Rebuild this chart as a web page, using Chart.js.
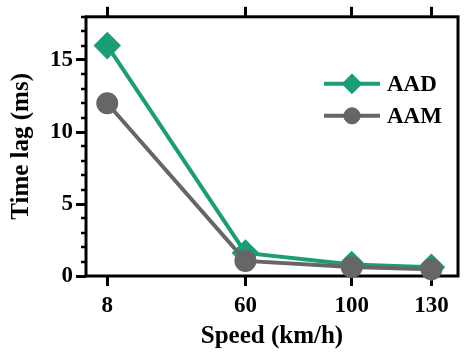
<!DOCTYPE html>
<html>
<head>
<meta charset="utf-8">
<script src="https://cdn.jsdelivr.net/npm/chart.js@4.4.0/dist/chart.umd.min.js"></script>
<style>
  html, body { margin: 0; padding: 0; background: #fff; }
  #wrap { position: relative; width: 473px; height: 358px; }
</style>
</head>
<body>
<div id="wrap"><canvas id="chart"></canvas></div>
<script>
// --- data ---
const speeds = [8, 60, 100, 130];
const aadLag = [16, 1.6, 0.8, 0.6];
const aamLag = [12, 1.05, 0.62, 0.47];
const seriesNames = ['AAD', 'AAM'];
const yMajorTicks = [0, 5, 10, 15];
const yMinorStep = 1;

const GREEN = '#1b9e77';
const GREY = '#666666';
const FONT = "'Liberation Serif', 'Times New Roman', serif";

function toPoints(ys) {
  return speeds.map((s, i) => ({ x: s, y: ys[i] }));
}

// frame + minor ticks on the left axis
const framePlugin = {
  id: 'frame',
  beforeDatasetsDraw(chart) {
    const { ctx, chartArea: a, scales } = chart;
    ctx.save();
    ctx.strokeStyle = '#000';
    ctx.lineWidth = 3;
    ctx.strokeRect(a.left, a.top, a.right - a.left, a.bottom - a.top);
    ctx.lineWidth = 2.5;
    const y = scales.y;
    for (let v = 0; v <= y.max; v += yMinorStep) {
      if (yMajorTicks.includes(v)) continue;
      const py = Math.round(y.getPixelForValue(v));
      ctx.beginPath();
      ctx.moveTo(a.left - 5, py);
      ctx.lineTo(a.left, py);
      ctx.stroke();
    }
    ctx.restore();
  }
};

// legend inside the plot: line segment + marker + label
const legendPlugin = {
  id: 'innerLegend',
  afterDraw(chart) {
    const { ctx, chartArea: a } = chart;
    const x0 = a.left + 238, x1 = a.left + 294, tx = a.left + 301;
    const rows = [a.top + 67, a.top + 99];
    ctx.save();
    chart.data.datasets.forEach((ds, i) => {
      const yy = rows[i];
      ctx.strokeStyle = ds.borderColor;
      ctx.lineWidth = ds.borderWidth;
      ctx.beginPath();
      ctx.moveTo(x0, yy);
      ctx.lineTo(x1, yy);
      ctx.stroke();
      ctx.fillStyle = ds.pointBackgroundColor;
      ctx.lineWidth = 1;
      Chart.helpers.drawPoint(ctx, {
        pointStyle: ds.pointStyle,
        radius: ds.pointRadius * 0.9,
        borderWidth: 1
      }, (x0 + x1) / 2, yy);
      ctx.fillStyle = '#000';
      ctx.font = 'bold 23px ' + FONT;
      ctx.textAlign = 'left';
      ctx.textBaseline = 'middle';
      ctx.fillText(seriesNames[i], tx, yy + 1);
    });
    ctx.restore();
  }
};

new Chart(document.getElementById('chart'), {
  type: 'line',
  data: {
    datasets: [
      {
        label: seriesNames[0],
        data: toPoints(aadLag),
        borderColor: GREEN,
        backgroundColor: GREEN,
        pointBackgroundColor: GREEN,
        pointBorderColor: GREEN,
        pointStyle: 'rectRot',
        pointRadius: 11,
        borderWidth: 4,
        order: 1,
        clip: false
      },
      {
        label: seriesNames[1],
        data: toPoints(aamLag),
        borderColor: GREY,
        backgroundColor: GREY,
        pointBackgroundColor: GREY,
        pointBorderColor: GREY,
        pointStyle: 'circle',
        pointRadius: 9,
        borderWidth: 4,
        order: 0,
        clip: false
      }
    ]
  },
  options: {
    responsive: true,
    maintainAspectRatio: false,
    animation: false,
    layout: { padding: { left: 0, right: 3, top: 0, bottom: 0 } },
    plugins: { legend: { display: false }, tooltip: { enabled: false } },
    scales: {
      x: {
        type: 'linear',
        position: 'bottom',
        min: 0,
        max: 140,
        afterBuildTicks: s => { s.ticks = speeds.map(v => ({ value: v })); },
        afterFit: s => { s.height = 82; },
        grid: { drawOnChartArea: false, drawTicks: true, tickLength: 10, lineWidth: 3, color: '#000' },
        border: { display: false },
        ticks: {
          color: '#000',
          padding: 6,
          maxRotation: 0,
          font: { family: FONT, size: 23, weight: 'bold' }
        },
        title: {
          display: true,
          text: 'Speed (km/h)',
          color: '#000',
          padding: { top: 0, bottom: 6 },
          font: { family: FONT, size: 25, weight: 'bold' }
        }
      },
      xTop: {
        type: 'linear',
        position: 'top',
        min: 0,
        max: 140,
        afterBuildTicks: s => { s.ticks = speeds.map(v => ({ value: v })); },
        afterFit: s => { s.height = 16; },
        grid: { drawOnChartArea: false, drawTicks: true, tickLength: 10, lineWidth: 3, color: '#000' },
        border: { display: false },
        ticks: { display: false }
      },
      y: {
        type: 'linear',
        min: 0,
        max: 18,
        afterBuildTicks: s => { s.ticks = yMajorTicks.map(v => ({ value: v })); },
        afterFit: s => { s.width = 86; },
        grid: { drawOnChartArea: false, drawTicks: true, tickLength: 10, lineWidth: 3, color: '#000' },
        border: { display: false },
        ticks: {
          color: '#000',
          padding: 3,
          font: { family: FONT, size: 23, weight: 'bold' }
        },
        title: {
          display: true,
          text: 'Time lag (ms)',
          color: '#000',
          padding: { top: 7, bottom: 0 },
          font: { family: FONT, size: 25, weight: 'bold' }
        }
      }
    }
  },
  plugins: [framePlugin, legendPlugin]
});
</script>
</body>
</html>
